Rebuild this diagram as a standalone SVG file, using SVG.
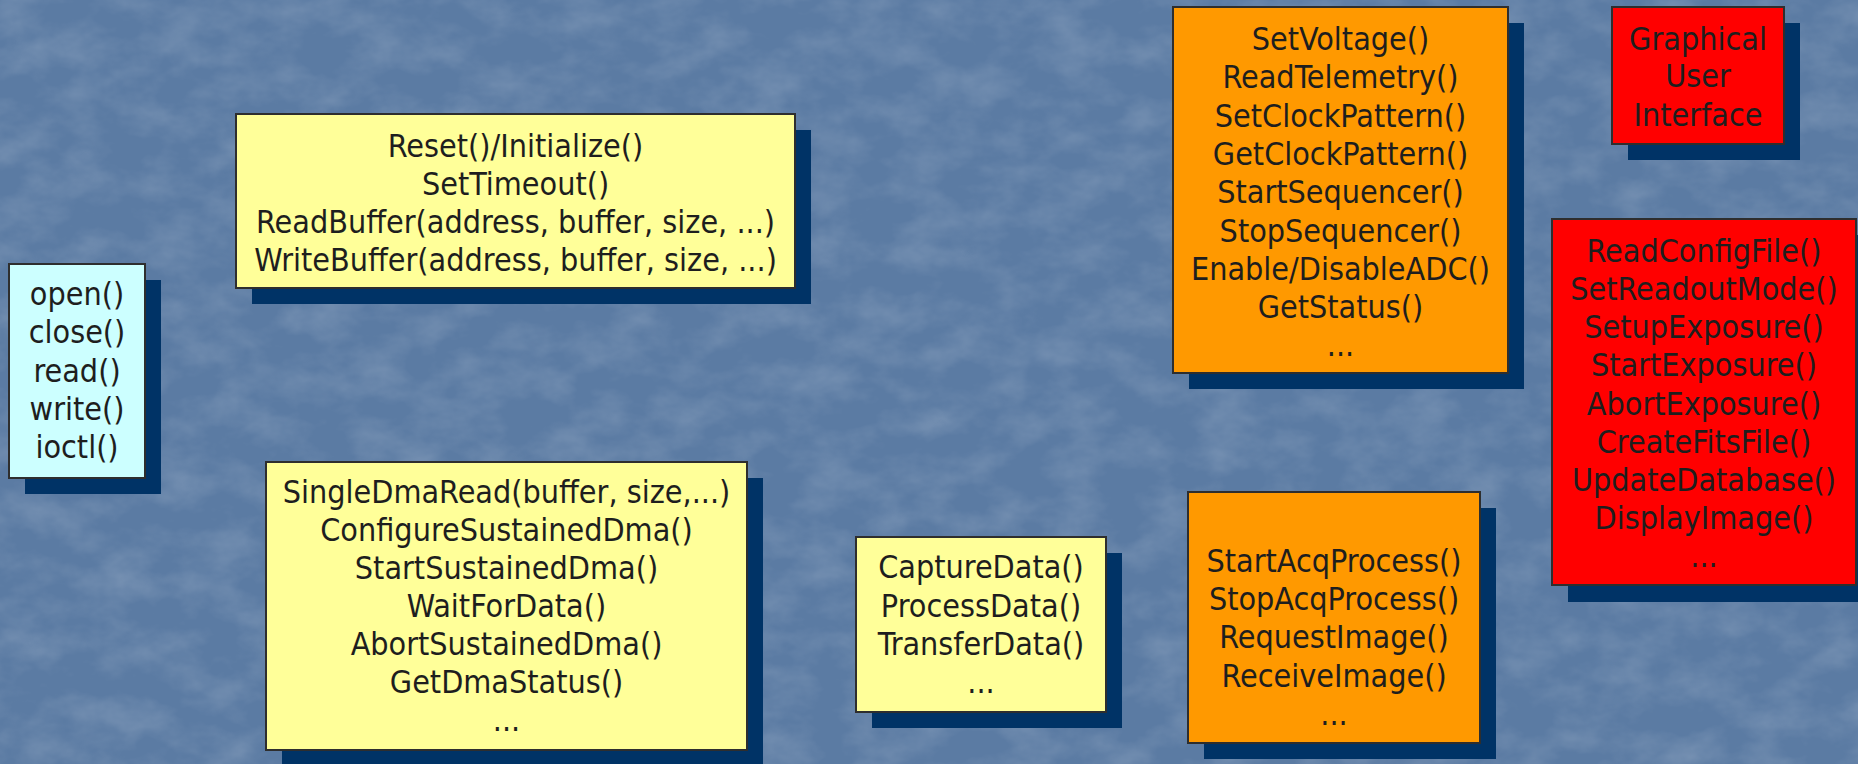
<svg xmlns="http://www.w3.org/2000/svg" width="1858" height="764" viewBox="0 0 1858 764">
<style>
.shadow{fill:#003366}
.box{stroke:#2e2e2e;stroke-width:2}
.y{fill:#ffff99}
.c{fill:#ccffff}
.o{fill:#ff9900}
.r{fill:#ff0000}
text{font-family:"DejaVu Sans Condensed","Liberation Sans",sans-serif;font-stretch:condensed;font-size:32px;fill:#1e1e1e;text-anchor:middle}
</style>
<defs>
<filter id="tex" x="0" y="0" width="1858" height="764" filterUnits="userSpaceOnUse">
<feTurbulence type="fractalNoise" baseFrequency="0.02 0.03" numOctaves="4" seed="11"/>
<feColorMatrix type="matrix" values="0 0 0 0 1  0 0 0 0 1  0 0 0 0 1  0.9 0 0 0 -0.33"/>
</filter>
</defs>
<g id="background">
<rect x="0" y="0" width="1858" height="764" fill="#5b7ba3"/>
<rect x="0" y="0" width="1858" height="764" filter="url(#tex)" opacity="0.3"/>
</g>
<g id="connectors"/>
<g id="node-posix">
<rect class="shadow" x="25" y="280" width="136" height="214"/>
<rect class="box c" x="9" y="264" width="136" height="214"/>
<text><tspan x="77" y="305">open()</tspan><tspan x="77" y="343">close()</tspan><tspan x="77" y="382">read()</tspan><tspan x="77" y="420">write()</tspan><tspan x="77" y="458">ioctl()</tspan></text>
</g>
<g id="node-buffer">
<rect class="shadow" x="252" y="130" width="559" height="174"/>
<rect class="box y" x="236" y="114" width="559" height="174"/>
<text><tspan x="515.5" y="157">Reset()/Initialize()</tspan><tspan x="515.5" y="195">SetTimeout()</tspan><tspan x="515.5" y="233">ReadBuffer(address, buffer, size, ...)</tspan><tspan x="515.5" y="271">WriteBuffer(address, buffer, size, ...)</tspan></text>
</g>
<g id="node-dma">
<rect class="shadow" x="282" y="478" width="481" height="288"/>
<rect class="box y" x="266" y="462" width="481" height="288"/>
<text><tspan x="506.5" y="503">SingleDmaRead(buffer, size,...)</tspan><tspan x="506.5" y="541">ConfigureSustainedDma()</tspan><tspan x="506.5" y="579">StartSustainedDma()</tspan><tspan x="506.5" y="617">WaitForData()</tspan><tspan x="506.5" y="655">AbortSustainedDma()</tspan><tspan x="506.5" y="693">GetDmaStatus()</tspan><tspan x="506.5" y="731">...</tspan></text>
</g>
<g id="node-data">
<rect class="shadow" x="872" y="553" width="250" height="175"/>
<rect class="box y" x="856" y="537" width="250" height="175"/>
<text><tspan x="981" y="578">CaptureData()</tspan><tspan x="981" y="617">ProcessData()</tspan><tspan x="981" y="655">TransferData()</tspan><tspan x="981" y="693">...</tspan></text>
</g>
<g id="node-controller">
<rect class="shadow" x="1189" y="23" width="335" height="366"/>
<rect class="box o" x="1173" y="7" width="335" height="366"/>
<text><tspan x="1340.5" y="50">SetVoltage()</tspan><tspan x="1340.5" y="88">ReadTelemetry()</tspan><tspan x="1340.5" y="127">SetClockPattern()</tspan><tspan x="1340.5" y="165">GetClockPattern()</tspan><tspan x="1340.5" y="203">StartSequencer()</tspan><tspan x="1340.5" y="242">StopSequencer()</tspan><tspan x="1340.5" y="280">Enable/DisableADC()</tspan><tspan x="1340.5" y="318">GetStatus()</tspan><tspan x="1340.5" y="356">...</tspan></text>
</g>
<g id="node-acquisition">
<rect class="shadow" x="1204" y="508" width="292" height="251"/>
<rect class="box o" x="1188" y="492" width="292" height="251"/>
<text><tspan x="1334" y="572">StartAcqProcess()</tspan><tspan x="1334" y="610">StopAcqProcess()</tspan><tspan x="1334" y="648">RequestImage()</tspan><tspan x="1334" y="687">ReceiveImage()</tspan><tspan x="1334" y="725">...</tspan></text>
</g>
<g id="node-gui">
<rect class="shadow" x="1628" y="23" width="172" height="137"/>
<rect class="box r" x="1612" y="7" width="172" height="137"/>
<text><tspan x="1698" y="50">Graphical</tspan><tspan x="1698" y="87">User</tspan><tspan x="1698" y="126">Interface</tspan></text>
</g>
<g id="node-application">
<rect class="shadow" x="1568" y="235" width="304" height="367"/>
<rect class="box r" x="1552" y="219" width="304" height="366"/>
<text><tspan x="1704" y="262">ReadConfigFile()</tspan><tspan x="1704" y="300">SetReadoutMode()</tspan><tspan x="1704" y="338">SetupExposure()</tspan><tspan x="1704" y="376">StartExposure()</tspan><tspan x="1704" y="415">AbortExposure()</tspan><tspan x="1704" y="453">CreateFitsFile()</tspan><tspan x="1704" y="491">UpdateDatabase()</tspan><tspan x="1704" y="529">DisplayImage()</tspan><tspan x="1704" y="567">...</tspan></text>
</g>
</svg>
